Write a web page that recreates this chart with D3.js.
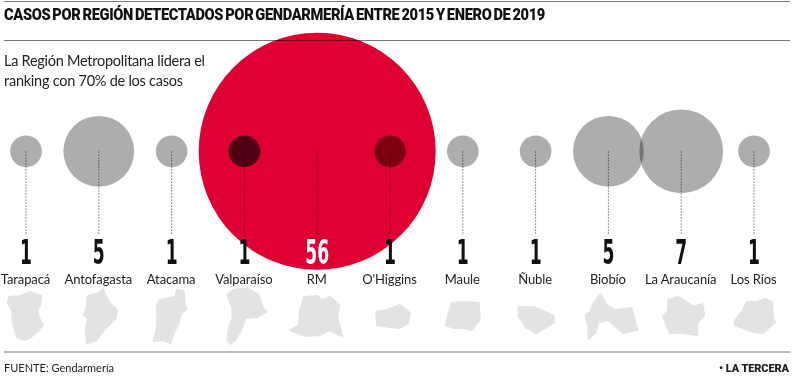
<!DOCTYPE html>
<meta charset="utf-8">
<style>
    body { margin: 0; background: #fff; }
    text { font-family: "Lato", sans-serif; fill: #222; }
</style>

<!-- Load d3.js -->
<script src="https://d3js.org/d3.v7.min.js"></script>

<div id="my_dataviz"></div>

<script>
    var title = "CASOS POR REGIÓN DETECTADOS POR GENDARMERÍA ENTRE 2015 Y ENERO DE 2019";
    var intro = ["La Región Metropolitana lidera el", "ranking con 70% de los casos"];
    var regiones = ["Tarapacá", "Antofagasta", "Atacama", "Valparaíso", "RM", "O'Higgins", "Maule", "Ñuble", "Biobío", "La Araucanía", "Los Ríos"];
    var casos = [1, 5, 1, 1, 56, 1, 1, 1, 5, 7, 1];

    // rough outlines of each region, just the decoration under the labels
    var siluetas = [
        [[-17,-23],[-6,-24],[4,-28],[15,-24],[14,-15],[11,-10],[13,-2],[17,5],[11,12],[5,17],[-1,20],[-9,17],[-13,3],[-14,-10],[-18,-17]],
        [[-11,-24],[0,-27],[4,-31],[8,-22],[13,-15],[18,-10],[17,-2],[8,7],[3,12],[-2,20],[-12,23],[-13,10],[-11,-2],[-15,-5],[-12,-13]],
        [[-12,-20],[4,-23],[5,-30],[12,-29],[13,-17],[15,-11],[10,-7],[7,3],[2,13],[-1,23],[-8,20],[-18,21],[-15,10],[-14,-3],[-15,-13]],
        [[-17,-25],[-11,-30],[3,-32],[14,-25],[18,-13],[22,-8],[13,-3],[1,-2],[-2,7],[-9,20],[-14,24],[-17,20],[-16,10],[-12,-2],[-12,-13]],
        [[-13,-23],[0,-24],[5,-20],[13,-23],[22,-15],[20,-2],[25,16],[18,13],[12,10],[3,15],[-12,16],[-27,10],[-18,5],[-17,-10]],
        [[-14,-8],[-3,-10],[10,-15],[20,-7],[18,3],[10,8],[0,7],[-13,5]],
        [[-11,-17],[2,-18],[16,-17],[17,0],[9,10],[1,8],[-9,8],[-17,5],[-14,-7]],
        [[-17,-13],[-2,-13],[18,-4],[18,3],[1,13],[-10,7],[-17,-4]],
        [[-15,-17],[-8,-26],[-2,-15],[7,-10],[23,-12],[29,10],[15,13],[0,0],[-10,2],[-13,13],[-20,19],[-20,7],[-23,-5],[-18,-8]],
        [[-13,-20],[-3,-23],[7,-17],[12,-13],[21,-16],[23,-5],[16,3],[16,15],[2,13],[-11,13],[-18,-3],[-13,-10]],
        [[-7,-18],[3,-18],[11,-21],[18,-18],[19,-3],[21,2],[9,13],[-1,12],[-19,5],[-19,0],[-11,-10]]
    ];

    var width = 800, height = 381, cy = 151.3;

    var data = regiones.map(function (d, i) {
        return { region: d, casos: casos[i], silueta: siluetas[i] };
    });

    var svg = d3.select("#my_dataviz")
        .append("svg")
        .attr("width", width)
        .attr("height", height)
        .style("display", "block");

    var x = d3.scalePoint()
        .domain(regiones)
        .range([26, 754]);

    // circle area goes with the number of cases
    var r = d3.scaleSqrt()
        .domain([0, 56])
        .range([0, 118.5]);

    svg.append("text")
        .attr("x", 4)
        .attr("y", 20)
        .style("font-family", "Roboto")
        .style("font-weight", 900)
        .style("font-size", "17px")
        .style("letter-spacing", "-0.4px")
        .style("word-spacing", "-1.5px")
        .style("fill", "#111")
        .attr("textLength", 541)
        .attr("lengthAdjust", "spacingAndGlyphs")
        .text(title);

    svg.selectAll("text.intro")
        .data(intro)
        .enter()
        .append("text")
        .attr("class", "intro")
        .attr("x", 4)
        .attr("y", function (d, i) { return 66 + i * 20; })
        .attr("textLength", function (d, i) { return [201, 179][i]; })
        .attr("lengthAdjust", "spacing")
        .style("font-size", "14.5px")
        .text(function (d) { return d; });

    // big circle goes first so the others sit on it
    var orden = data.slice().sort(function (a, b) { return b.casos - a.casos; });
    svg.selectAll("circle")
        .data(orden)
        .enter()
        .append("circle")
        .attr("cx", function (d) { return x(d.region); })
        .attr("cy", cy)
        .attr("r", function (d) { return r(d.casos); })
        .attr("fill", function (d) {
            if (d.region == "RM") return "#de0032";
            if (d.region == "Valparaíso") return "#520016";
            if (d.region == "O'Higgins") return "#7c0010";
            return "#adadad";
        })
        .style("mix-blend-mode", function (d) {
            return d.casos > 1 && d.region != "RM" ? "multiply" : "normal";
        });

    // rules, after the circles because the second one crosses the red
    svg.selectAll("line.rule")
        .data([1.5, 40.5, 352])
        .enter()
        .append("line")
        .attr("class", "rule")
        .attr("x1", 4)
        .attr("x2", 790)
        .attr("y1", function (d) { return d; })
        .attr("y2", function (d) { return d; })
        .attr("stroke", "#777")
        .attr("stroke-width", 1)
        .style("mix-blend-mode", "multiply");

    // dotted leaders
    svg.selectAll("line.leader")
        .data(data)
        .enter()
        .append("line")
        .attr("class", "leader")
        .attr("x1", function (d) { return x(d.region); })
        .attr("x2", function (d) { return x(d.region); })
        .attr("y1", cy)
        .attr("y2", 235)
        .attr("stroke", "#777")
        .attr("stroke-width", 1)
        .attr("stroke-dasharray", "1.5 1.5")
        .style("mix-blend-mode", "multiply");

    // numbers
    svg.selectAll("text.valor")
        .data(data)
        .enter()
        .append("text")
        .attr("class", "valor")
        .attr("transform", function (d) { return "translate(" + x(d.region) + ",264) scale(0.52,1)"; })
        .attr("text-anchor", "middle")
        .style("font-family", "DejaVu Sans")
        .style("font-weight", 700)
        .style("font-size", "33px")
        .style("fill", function (d) { return d.region == "RM" ? "#fff" : "#111"; })
        .text(function (d) { return d.casos; });

    svg.selectAll("text.region")
        .data(data)
        .enter()
        .append("text")
        .attr("class", "region")
        .attr("x", function (d) { return x(d.region) - 0.5; })
        .attr("y", 284)
        .attr("text-anchor", "middle")
        .style("font-size", "13px")
        .style("letter-spacing", "-0.1px")
        .text(function (d) { return d.region; });

    // region outlines, stroked a bit so they look chunkier
    var outline = d3.line().curve(d3.curveLinearClosed);
    svg.selectAll("path.silueta")
        .data(data)
        .enter()
        .append("path")
        .attr("class", "silueta")
        .attr("transform", function (d) { return "translate(" + x(d.region) + ",320)"; })
        .attr("d", function (d) { return outline(d.silueta); })
        .attr("fill", "#e3e3e3")
        .attr("stroke", "#e3e3e3")
        .attr("stroke-width", 2)
        .attr("stroke-linejoin", "round");

    svg.append("text")
        .attr("x", 4)
        .attr("y", 372)
        .style("font-size", "11px")
        .text("FUENTE: Gendarmería");

    svg.append("text")
        .attr("x", 789)
        .attr("y", 372)
        .attr("text-anchor", "end")
        .style("font-family", "Roboto")
        .style("font-size", "11px")
        .style("font-weight", 900)
        .style("letter-spacing", "-0.1px")
        .text("• LA TERCERA");
</script>
